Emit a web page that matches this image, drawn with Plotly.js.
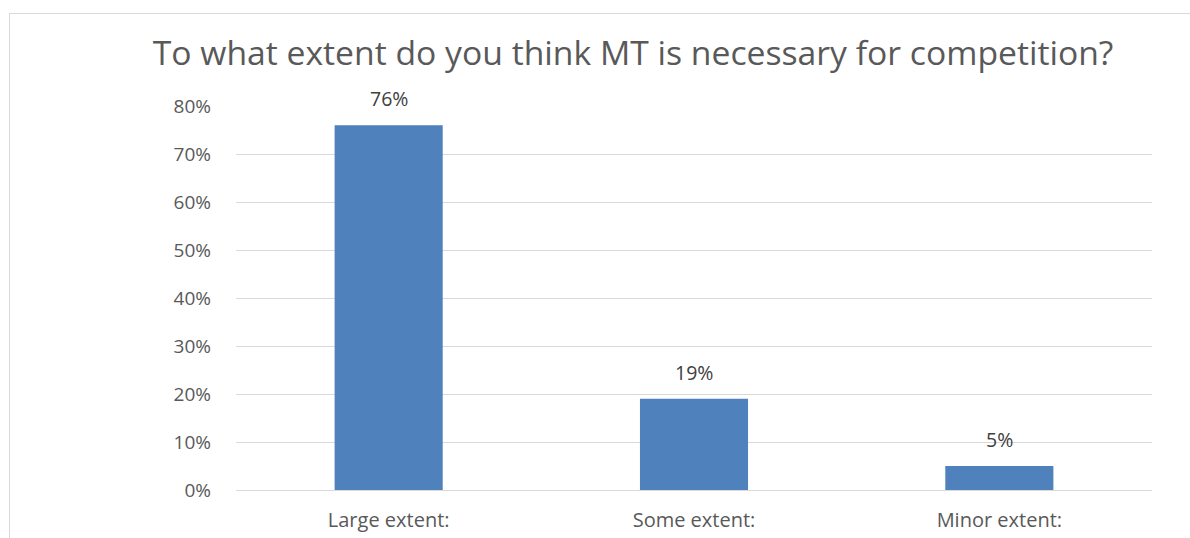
<!DOCTYPE html>
<html>
<head>
<meta charset="utf-8">
<script src="https://cdn.plot.ly/plotly-3.0.1.min.js"></script>
<style>
  html, body { margin: 0; padding: 0; background: #fff; }
  #wrap { position: relative; width: 1190px; height: 538px; overflow: hidden; }
  #chart { width: 1190px; height: 538px; }
  #frame { position: absolute; left: 9px; top: 13px; width: 1300px; height: 700px; border: 1px solid #d9d9d9; pointer-events: none; box-sizing: border-box; }
</style>
</head>
<body>
<div id="wrap">
  <div id="chart"></div>
  <div id="frame"></div>
</div>
<script>
const categories = ["Large extent:", "Some extent:", "Minor extent:"];
const values = [76, 19, 5];
const labels = ["76%", "19%", "5%"];
const tickVals = [0, 10, 20, 30, 40, 50, 60, 70, 80];
const tickText = ["0%", "10%", "20%", "30%", "40%", "50%", "60%", "70%", "80%"];
const chartTitle = "To what extent do you think MT is necessary for competition?";

const font = "'Open Sans', 'Noto Sans', sans-serif";

const trace = {
  type: "bar",
  x: categories,
  y: values,
  marker: { color: "#4f81bd" },
  hoverinfo: "none"
};

const annotations = categories.map((c, i) => ({
  x: c, y: values[i], text: labels[i],
  xref: "x", yref: "y",
  showarrow: false, yanchor: "bottom", yshift: 11,
  font: { family: font, size: 19.5, color: "#404040" }
}));

const layout = {
  width: 1190, height: 538,
  margin: { l: 236, r: 38, t: 106, b: 48 },
  paper_bgcolor: "rgba(0,0,0,0)",
  plot_bgcolor: "#fff",
  showlegend: false,
  bargap: 0.646,
  title: {
    text: chartTitle,
    font: { family: font, size: 33.7, color: "#595959" },
    x: 0.532, xanchor: "center", y: 0.901, yanchor: "middle"
  },
  xaxis: {
    type: "category",
    showgrid: false, zeroline: false, showline: false, ticks: "",
    tickfont: { family: font, size: 20, color: "#595959" },
    ticklabelstandoff: 16
  },
  yaxis: {
    range: [0, 80],
    tickvals: tickVals, ticktext: tickText,
    showgrid: true, gridcolor: "#d9d9d9", gridwidth: 1,
    zeroline: true, zerolinecolor: "#d9d9d9", zerolinewidth: 1,
    showline: false, ticks: "",
    tickfont: { family: font, size: 19, color: "#595959" },
    ticklabelstandoff: 24
  },
  annotations: annotations
};

Plotly.newPlot("chart", [trace], layout, { displayModeBar: false, staticPlot: true });
</script>
</body>
</html>
